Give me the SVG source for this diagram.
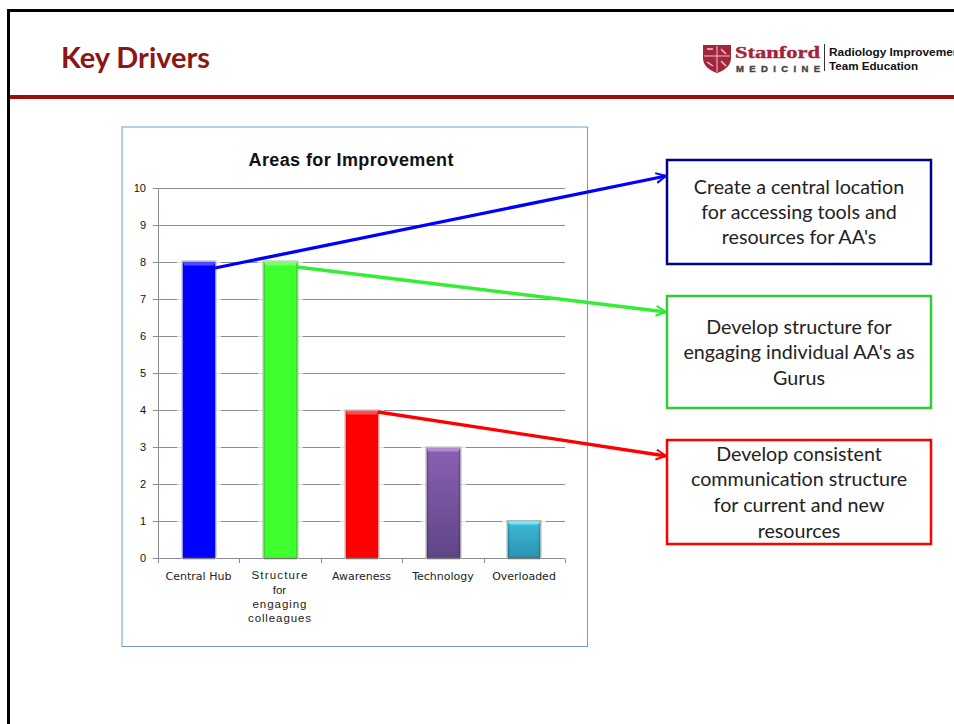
<svg xmlns="http://www.w3.org/2000/svg" width="954" height="724" viewBox="0 0 954 724">
<style>
.g{stroke:#8c8c8c;stroke-width:1;fill:none}
.y{font:11px "Liberation Sans",Arial,sans-serif;fill:#111;text-anchor:end}
.x{font:11px "DejaVu Sans",sans-serif;fill:#222;text-anchor:middle}
.s{font:11.500px "Liberation Sans",Arial,sans-serif;fill:#222;text-anchor:middle}
.b{font:19.700px Lato,"Liberation Sans",sans-serif;fill:#222;text-anchor:middle}
.box{fill:#fff;stroke-width:2.500}
.halo{fill:#fff;opacity:.7}
.edge{fill:none;stroke:#b5b5b5;stroke-width:1}
.base{stroke:#777;stroke-width:1.500}
.hi{fill:#fff;opacity:.3}
.sh{fill:#000;opacity:.14}
</style>
<defs>
<marker id="ab" markerUnits="userSpaceOnUse" markerWidth="14" markerHeight="14" refX="11" refY="6" orient="auto"><path d="M1 1L11 6L1 11" fill="none" stroke="#0000ff" stroke-width="2"/></marker>
<marker id="ag" markerUnits="userSpaceOnUse" markerWidth="14" markerHeight="14" refX="11" refY="6" orient="auto"><path d="M1 1L11 6L1 11" fill="none" stroke="#33e633" stroke-width="2"/></marker>
<marker id="ar" markerUnits="userSpaceOnUse" markerWidth="14" markerHeight="14" refX="11" refY="6" orient="auto"><path d="M1 1L11 6L1 11" fill="none" stroke="#ff0000" stroke-width="2"/></marker>
<linearGradient id="pu" x1="0" y1="0" x2="0" y2="1"><stop offset="0" stop-color="#8a60b5"/><stop offset="1" stop-color="#5f4585"/></linearGradient>
<linearGradient id="cy" x1="0" y1="0" x2="0" y2="1"><stop offset="0" stop-color="#3fb9d8"/><stop offset="1" stop-color="#2a93b0"/></linearGradient>
</defs>
<rect width="954" height="724" fill="#fff"/>
<path d="M8.500 724V10.500H954" fill="none" stroke="#000" stroke-width="3"/>
<rect x="10" y="95" width="944" height="4" fill="#9a0f0a"/>
<text x="61" y="68" textLength="149" lengthAdjust="spacingAndGlyphs" style="font:bold 28px Lato,'Liberation Sans',sans-serif;fill:#8c1515">Key Drivers</text>
<g id="logo">
<path d="M703 45H731V58Q731 68 717 73Q703 68 703 58Z" fill="#a3243b"/>
<path d="M717 46V72M704 56H730" stroke="#e8c8cf" stroke-width="1" fill="none"/>
<path d="M707 49h6M721 49l5 5M721 61l5 5M707 62l6 4" stroke="#e8c8cf" stroke-width="1.500" fill="none"/>
<text x="735" y="58" textLength="85" lengthAdjust="spacingAndGlyphs" style="font:bold 17.500px 'Liberation Serif',serif;fill:#a3243b;stroke:#a3243b;stroke-width:.4">Stanford</text>
<text x="736" y="71.500" textLength="84" style="font:bold 9.500px 'Liberation Sans',sans-serif;fill:#444;stroke:#444;stroke-width:.4">MEDICINE</text>
<path d="M824.500 44V71" stroke="#333" stroke-width="1"/>
<text x="829" y="56" textLength="135" lengthAdjust="spacingAndGlyphs" style="font:bold 11px 'Liberation Sans',sans-serif;fill:#111">Radiology Improvement</text>
<text x="829" y="70" textLength="89" lengthAdjust="spacingAndGlyphs" style="font:bold 11px 'Liberation Sans',sans-serif;fill:#111">Team Education</text>
</g>
<g id="chart">
<rect x="122" y="127" width="465.500" height="519.500" fill="#fff" stroke="#6f9bd1" stroke-width="1"/>
<text x="351" y="166" text-anchor="middle" textLength="205" style="font:bold 18px 'Liberation Sans',Arial,sans-serif;fill:#111">Areas for Improvement</text>
<path class="g" d="M153 188.500H565M153 225.500H565M153 262.500H565M153 299.500H565M153 336.500H565M153 373.500H565M153 410.500H565M153 447.500H565M153 484.500H565M153 521.500H565M153 558.500H565M158.500 188V563M239.500 558.500V563M321.500 558.500V563M402.500 558.500V563M484.500 558.500V563M565.500 558.500V563"/>
<g class="y">
<text x="146" y="192">10</text><text x="146" y="229">9</text><text x="146" y="266">8</text><text x="146" y="303">7</text><text x="146" y="340">6</text><text x="146" y="377">5</text><text x="146" y="414">4</text><text x="146" y="451">3</text><text x="146" y="488">2</text><text x="146" y="525">1</text><text x="146" y="562">0</text>
</g>
<g id="halos">
<rect class="halo" x="177" y="260" width="44" height="297"/>
<rect class="halo" x="258" y="260" width="45" height="297"/>
<rect class="halo" x="340" y="409" width="44" height="148"/>
<rect class="halo" x="421" y="446" width="45" height="111"/>
<rect class="halo" x="502" y="519.500" width="44" height="37.500"/>
</g>
<g id="bars">
<rect x="182.500" y="261.500" width="33" height="297" fill="#0000ff"/>
<rect class="edge" x="182" y="261" width="34" height="297.500"/>
<path class="hi" d="M182.500 261.500h33l-2 4h-29z"/>
<rect x="263.500" y="261.500" width="34" height="297" fill="#40ff2e"/>
<rect class="edge" x="263" y="261" width="35" height="297.500"/>
<path class="hi" d="M263.500 261.500h34l-2 4h-30z"/>
<path class="sh" d="M263.500 261.500l1.500 2v295h-1.500zM297.500 261.500l-1.500 2v295h1.500z"/>
<rect x="345.500" y="410.500" width="33" height="148" fill="#ff0000"/>
<rect class="edge" x="345" y="410" width="34" height="148.500"/>
<path class="hi" d="M345.500 410.500h33l-2 4h-29z"/>
<rect x="426.500" y="447.500" width="34" height="111" fill="url(#pu)"/>
<rect class="edge" x="426" y="447" width="35" height="111.500"/>
<path class="hi" d="M426.500 447.500h34l-2 4h-30z"/>
<path class="sh" d="M426.500 447.500l2 4v107h-2zM460.500 447.500l-2 4v107h2z"/>
<rect x="507.500" y="521" width="33" height="37.500" fill="url(#cy)"/>
<rect class="edge" x="507" y="520.500" width="34" height="38"/>
<path fill="#6fe8f5" d="M507.500 521h33l-2 3.500h-29z"/>
<path class="sh" d="M507.500 521l2 3.500v32h29v-32l2-3.500v37.500h-33z"/>
<path class="base" d="M183 558.500H215M264 558.500H297M346 558.500H378M427 558.500H460M508 558.500H540"/>
</g>
<g class="x">
<text x="198.500" y="580">Central Hub</text>
<text x="361.500" y="580">Awareness</text>
<text x="443" y="580">Technology</text>
<text x="524" y="580">Overloaded</text>
</g>
<g class="s">
<text x="279.500" y="579" textLength="56">Structure</text><text x="279.500" y="594">for</text><text x="279.500" y="608" textLength="54">engaging</text><text x="279.500" y="622" textLength="63">colleagues</text>
</g>
</g>
<g id="n1"><rect class="box" x="667" y="160" width="264" height="104" stroke="#00008b"/>
<text class="b"><tspan x="799" y="194">Create a central location</tspan><tspan x="799" y="219">for accessing tools and</tspan><tspan x="799" y="244">resources for AA's</tspan></text></g>
<g id="n2"><rect class="box" x="667" y="296" width="264" height="112" stroke="#33cc33"/>
<text class="b"><tspan x="799" y="334">Develop structure for</tspan><tspan x="799" y="359">engaging individual AA's as</tspan><tspan x="799" y="385">Gurus</tspan></text></g>
<g id="n3"><rect class="box" x="667" y="440" width="264" height="104" stroke="#ff0000"/>
<text class="b"><tspan x="799" y="461">Develop consistent</tspan><tspan x="799" y="486">communication structure</tspan><tspan x="799" y="512">for current and new</tspan><tspan x="799" y="538">resources</tspan></text></g>
<g id="connectors" fill="none" stroke-width="3.300">
<path d="M215 268L666 176" stroke="#0000ff" marker-end="url(#ab)"/>
<path d="M297 267L666 312" stroke="#33ee33" marker-end="url(#ag)"/>
<path d="M378 412L666 456" stroke="#ff0000" marker-end="url(#ar)"/>
</g>
</svg>
